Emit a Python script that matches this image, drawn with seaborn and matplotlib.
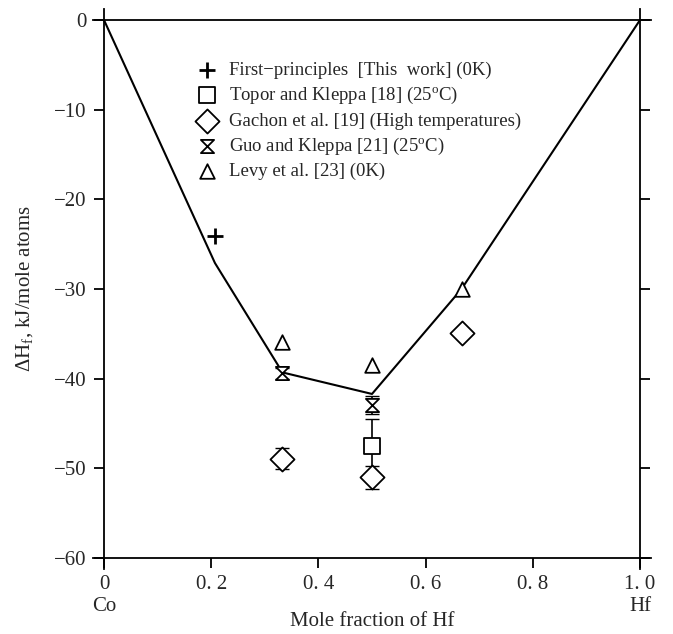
import numpy as np
import matplotlib
matplotlib.use("Agg")
import matplotlib.pyplot as plt
import seaborn as sns
from matplotlib.path import Path

# data
hull_x = [0, 0.207, 0.333, 0.5, 0.667, 1.0]
hull_y = [0, -27.1, -39.3, -41.7, -30.0, 0]

fp_x = [0.207]
fp_y = [-24.1]

topor_x = [0.5]
topor_y = [-47.5]
topor_err = [3.0]

gachon_x = [0.333, 0.5, 0.667]
gachon_y = [-48.9, -51.0, -34.9]
gachon_err = [1.2, 1.3, 0.0]

guo_x = [0.333, 0.5]
guo_y = [-39.4, -42.9]
guo_err = [0.6, 1.0]

levy_x = [0.333, 0.5, 0.667]
levy_y = [-35.9, -38.5, -30.0]

xticks = [0, 0.2, 0.4, 0.6, 0.8, 1.0]
xticklabels = ["0", "0. 2", "0. 4", "0. 6", "0. 8", "1. 0"]
yticks = [0, -10, -20, -30, -40, -50, -60]
yticklabels = ["0", "\u221210", "\u221220", "\u221230", "\u221240", "\u221250", "\u221260"]

sns.set_style("white")
plt.rcParams["font.family"] = ["Liberation Serif", "DejaVu Serif"]
plt.rcParams["mathtext.fontset"] = "custom"
plt.rcParams["mathtext.rm"] = "Liberation Serif"
plt.rcParams["mathtext.it"] = "Liberation Serif:italic"

hourglass = Path([(-1, 1), (1, 1), (-1, -1), (1, -1), (-1, 1)],
                 [Path.MOVETO, Path.LINETO, Path.LINETO, Path.LINETO, Path.CLOSEPOLY])

fig = plt.figure(figsize=(6.73, 6.34), dpi=100)
ax = fig.add_axes([0.1386, 0.1028, 0.8283, 0.8826])

sns.lineplot(x=hull_x, y=hull_y, sort=False, color="black", lw=1.5, ax=ax, zorder=2)

# error bars
ax.errorbar(topor_x, topor_y, yerr=topor_err, fmt="none", ecolor="black", elinewidth=1.2, capsize=5, zorder=1)
ax.errorbar(gachon_x[:2], gachon_y[:2], yerr=gachon_err[:2], fmt="none", ecolor="black", elinewidth=1.2, capsize=5, zorder=1)
ax.errorbar(guo_x, guo_y, yerr=guo_err, fmt="none", ecolor="black", elinewidth=1.2, capsize=5, zorder=1)

kw = dict(ax=ax, zorder=3)
sns.scatterplot(x=fp_x, y=fp_y, marker="+", s=120, color="black", linewidth=2.0,
                label="First\u2212principles  [This  work] (0K)", **kw)
sns.scatterplot(x=topor_x, y=topor_y, marker="s", s=130, facecolor="white", edgecolor="black",
                linewidth=1.3, label="Topor and Kleppa [18] (25$^{\\rm o}$C)", **kw)
sns.scatterplot(x=gachon_x, y=gachon_y, marker="D", s=150, facecolor="white", edgecolor="black",
                linewidth=1.3, label="Gachon et al. [19] (High temperatures)", **kw)
sns.scatterplot(x=guo_x, y=guo_y, marker=hourglass, s=90, facecolor="white", edgecolor="black",
                linewidth=1.3, label="Guo and Kleppa [21] (25$^{\\rm o}$C)", **kw)
sns.scatterplot(x=levy_x, y=levy_y, marker="^", s=110, facecolor="white", edgecolor="black",
                linewidth=1.3, label="Levy et al. [23] (0K)", **kw)

ax.set_xlim(-0.02, 1.02)
ax.set_ylim(-61.2, 1.2)

for side, pos in [("left", 0), ("right", 1.0), ("top", 0), ("bottom", -60)]:
    ax.spines[side].set_position(("data", pos))
    ax.spines[side].set_linewidth(1.3)
    ax.spines[side].set_color("black")

ax.set_xticks(xticks)
ax.set_xticklabels(xticklabels)
ax.set_yticks(yticks)
ax.set_yticklabels(yticklabels)
ax.tick_params(axis="both", direction="out", length=7.5, width=1.3, color="black",
               labelsize=15, pad=5)
ax.tick_params(axis="x", top=False, bottom=True)
ax.tick_params(axis="y", left=True, right=True, labelright=False)

ax.set_ylabel("\u0394H$_{\\rm f}$, kJ/mole atoms", fontsize=15, labelpad=14)
ax.set_xlabel("")
ax.text(0, -65.4, "Co", ha="center", va="center", fontsize=15)
ax.text(1.0, -65.4, "Hf", ha="center", va="center", fontsize=15)
ax.text(0.5, -67.1, "Mole fraction of Hf", ha="center", va="center", fontsize=15)

ax.legend(loc="upper left", bbox_to_anchor=(0.17, 0.92), frameon=False, fontsize=13.5,
          handlelength=1.2, handletextpad=0.6, labelspacing=0.33, borderaxespad=0)

fig.savefig("out.png", dpi=100)
